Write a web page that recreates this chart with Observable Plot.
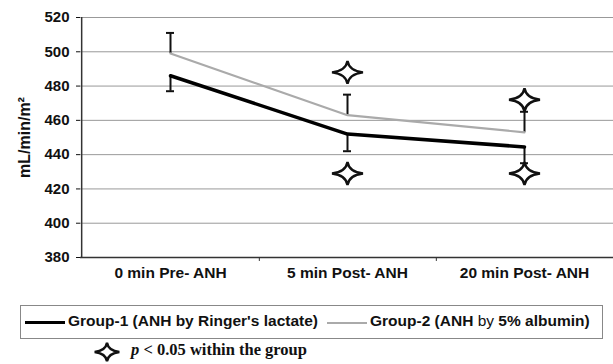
<!DOCTYPE html>
<html><head><meta charset="utf-8">
<script src="https://cdn.jsdelivr.net/npm/d3@7"></script>
<script src="https://cdn.jsdelivr.net/npm/@observablehq/plot@0.6"></script>
<style>
body{margin:0;background:#fff;font-family:"Liberation Sans",Arial,sans-serif;}
#wrap{position:relative;width:613px;height:364px;overflow:hidden;}
#chart{position:absolute;left:0;top:0;}
#legend{position:absolute;left:20px;top:305px;width:583px;height:34px;border:1px solid #888;box-sizing:border-box;}
.sample{position:absolute;top:15px;height:0;}
.ltext{position:absolute;top:6px;font-weight:bold;font-size:15.5px;color:#111;white-space:nowrap;}
#note{position:absolute;left:131px;top:340px;font-family:"Liberation Serif","Times New Roman",serif;font-weight:bold;font-size:16.5px;color:#111;white-space:nowrap;}
#noteStar{position:absolute;left:94px;top:340px;}
</style></head><body>
<div id="wrap">
<div id="chart"></div>
<div id="legend">
  <div class="sample" style="left:4px;width:40px;border-top:3.5px solid #000;"></div>
  <div class="ltext" style="left:47px;">Group-1 (ANH by Ringer's lactate)</div>
  <div class="sample" style="left:306px;width:40px;border-top:2px solid #aaa;top:16px;"></div>
  <div class="ltext" style="left:349px;">Group-2 (ANH <span style="font-weight:normal">by</span> 5% albumin)</div>
</div>
<svg id="noteStar" width="26" height="24"></svg>
<div id="note"><i>p</i> &lt; 0.05 within the group</div>
</div>
<script>
const categories = ["0 min Pre- ANH", "5 min Post- ANH", "20 min Post- ANH"];
const group1 = [486, 452, 444.5];
const group1Low = [477, 442, 435];
const group2 = [499, 463, 453];
const group2High = [511, 475, 465];
const sigCategories = ["5 min Post- ANH", "5 min Post- ANH", "20 min Post- ANH", "20 min Post- ANH"];
const sigValues = [488, 429, 472, 429];
const yTicks = [380, 400, 420, 440, 460, 480, 500, 520];
const yLabel = "mL/min/m\u00b2";

const W = 613, ML = 80, MR = 0;
const step = (W - ML - MR) / categories.length;

const star = {
  draw(ctx, size) {
    const s = Math.sqrt(size / Math.PI) / 10;
    const rx = 15.5 * s, ry = 11.5 * s, a = 1.6 * s;
    ctx.moveTo(0, -ry);
    ctx.quadraticCurveTo(a, -a, rx, 0);
    ctx.quadraticCurveTo(a, a, 0, ry);
    ctx.quadraticCurveTo(-a, a, -rx, 0);
    ctx.quadraticCurveTo(-a, -a, 0, -ry);
    ctx.closePath();
  }
};

const chart = Plot.plot({
  width: W, height: 290,
  marginLeft: ML, marginRight: MR, marginTop: 17, marginBottom: 33,
  style: {fontFamily: "Liberation Sans, Arial, sans-serif", color: "#111", background: "white"},
  x: {type: "point", domain: categories, padding: 0.5},
  y: {domain: [380, 520]},
  marks: [
    Plot.gridY(yTicks, {stroke: "#999", strokeOpacity: 1, strokeWidth: 1}),
    Plot.ruleY([380], {stroke: "#333", strokeWidth: 1.3}),
    Plot.ruleX([categories[0]], {x: d => d, dx: -step / 2, y1: 380, y2: 520, stroke: "#333", strokeWidth: 1.5}),
    Plot.ruleX(categories.slice(0, 2), {x: d => d, dx: step / 2, y1: 380, y2: 377.7, stroke: "#333"}),
    Plot.axisY(yTicks, {tickSize: 4, tickPadding: 7, fontSize: 15, fontWeight: "bold", label: null}),
    Plot.axisX({tickSize: 0, tickPadding: 9, fontSize: 15.5, fontWeight: "bold", label: null}),
    Plot.text([yLabel], {text: d => d, frameAnchor: "left", textAnchor: "middle", rotate: -90, dx: -56, fontSize: 16, fontWeight: "bold", fill: "#111"}),
    Plot.ruleX(categories, {x: d => d, y1: (d, i) => group2[i], y2: (d, i) => group2High[i], stroke: "#111", strokeWidth: 2}),
    Plot.ruleY(categories, {x1: d => d, x2: d => d, y: (d, i) => group2High[i], insetLeft: -4, insetRight: -4, stroke: "#111", strokeWidth: 2}),
    Plot.ruleX(categories, {x: d => d, y1: (d, i) => group1[i], y2: (d, i) => group1Low[i], stroke: "#111", strokeWidth: 2}),
    Plot.ruleY(categories, {x1: d => d, x2: d => d, y: (d, i) => group1Low[i], insetLeft: -4, insetRight: -4, stroke: "#111", strokeWidth: 2}),
    Plot.line(categories, {x: d => d, y: (d, i) => group2[i], stroke: "#aaa", strokeWidth: 2.2}),
    Plot.line(categories, {x: d => d, y: (d, i) => group1[i], stroke: "#000", strokeWidth: 3.5}),
    Plot.dot(sigCategories, {x: d => d, y: (d, i) => sigValues[i], symbol: star, r: 10, fill: "white", stroke: "#111", strokeWidth: 2.4})
  ]
});
document.getElementById("chart").appendChild(chart);

// legend star symbol (same shape)
const p = d3.path();
star.draw(p, Math.PI * 64);
d3.select("#noteStar").append("path")
  .attr("transform", "translate(13,12)")
  .attr("d", p.toString())
  .attr("fill", "white").attr("stroke", "#111").attr("stroke-width", 2.4);
</script>
</body></html>
